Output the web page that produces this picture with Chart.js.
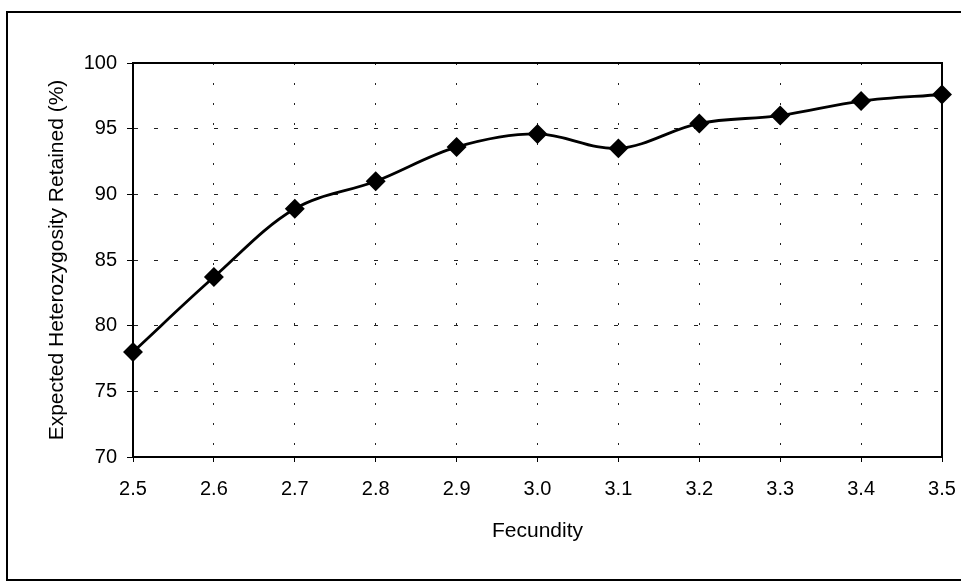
<!DOCTYPE html>
<html>
<head>
<meta charset="utf-8">
<script src="https://cdn.jsdelivr.net/npm/chart.js@4.4.0/dist/chart.umd.min.js"></script>
<style>
    body { margin: 0; background: #fff; }
    #frame { position: absolute; left: 6px; top: 11px; width: 960px; height: 566px; border: 2px solid #000; }
    #chart { position: absolute; left: 0; top: 0; }
</style>
</head>
<body>
<div id="frame"></div>
<canvas id="chart" width="961" height="586"></canvas>
<script>
    // Data
    const fecundity = [2.5, 2.6, 2.7, 2.8, 2.9, 3.0, 3.1, 3.2, 3.3, 3.4, 3.5];
    const retained = [78.0, 83.7, 88.9, 91.0, 93.6, 94.6, 93.5, 95.4, 96.0, 97.1, 97.6];
    const xTicks = [2.5, 2.6, 2.7, 2.8, 2.9, 3.0, 3.1, 3.2, 3.3, 3.4, 3.5];
    const yTicks = [70, 75, 80, 85, 90, 95, 100];

    const font = 'Arial, "Liberation Sans", sans-serif';

    // Solid box round the plot area
    const plotBox = {
        id: 'plotBox',
        beforeDatasetsDraw(chart) {
            const a = chart.chartArea;
            const ctx = chart.ctx;
            ctx.save();
            ctx.strokeStyle = '#000';
            ctx.lineWidth = 2;
            ctx.strokeRect(a.left, a.top, a.right - a.left, a.bottom - a.top);
            ctx.restore();
        }
    };

    const ctx = document.getElementById('chart').getContext('2d');
    new Chart(ctx, {
        type: 'line',
        data: {
            datasets: [{
                data: fecundity.map((x, i) => ({ x: x, y: retained[i] })),
                borderColor: '#000',
                backgroundColor: '#000',
                borderWidth: 2.8,
                tension: 0.35,
                pointStyle: 'rectRot',
                pointRadius: 8,
                pointBackgroundColor: '#000',
                pointBorderColor: '#000',
                clip: false
            }]
        },
        options: {
            responsive: false,
            animation: false,
            devicePixelRatio: 1,
            layout: { padding: { left: 36, top: 63, right: 19, bottom: 0 } },
            plugins: {
                legend: { display: false },
                tooltip: { enabled: false }
            },
            scales: {
                x: {
                    type: 'linear',
                    min: 2.5,
                    max: 3.5,
                    afterBuildTicks: scale => { scale.ticks = xTicks.map(v => ({ value: v })); },
                    afterFit: scale => {
                        scale.height = 129;
                        scale.paddingLeft = 0;
                        scale.paddingRight = 0;
                    },
                    ticks: {
                        color: '#000',
                        font: { family: font, size: 20 },
                        padding: 15,
                        maxRotation: 0,
                        autoSkip: false,
                        callback: v => v.toFixed(1)
                    },
                    grid: { color: '#222', lineWidth: 1, tickLength: 5, tickColor: '#000' },
                    border: { display: true, color: '#000', width: 2, dash: [2, 18] },
                    title: {
                        display: true,
                        text: 'Fecundity',
                        color: '#000',
                        font: { family: font, size: 21 },
                        padding: { top: 0, bottom: 42 }
                    }
                },
                y: {
                    min: 70,
                    max: 100,
                    afterBuildTicks: scale => { scale.ticks = yTicks.map(v => ({ value: v })); },
                    afterFit: scale => { scale.width = 97; },
                    ticks: {
                        color: '#000',
                        font: { family: font, size: 20 },
                        padding: 10
                    },
                    grid: { color: '#222', lineWidth: 1, tickLength: 6, tickColor: '#000' },
                    border: { display: true, color: '#000', width: 2, dash: [4, 16] },
                    title: {
                        display: true,
                        text: 'Expected Heterozygosity Retained (%)',
                        color: '#000',
                        font: { family: font, size: 21 },
                        padding: { top: 9, bottom: 0 }
                    }
                }
            }
        },
        plugins: [plotBox]
    });
</script>
</body>
</html>
